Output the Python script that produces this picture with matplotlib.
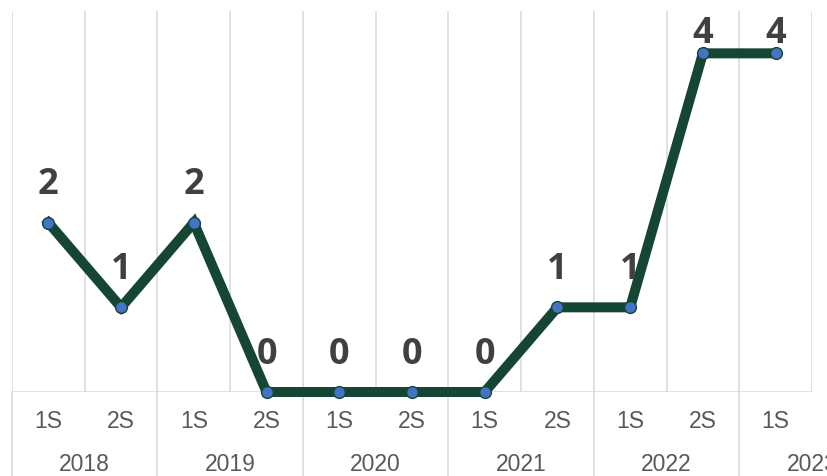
import matplotlib.pyplot as plt

semesters = ['1S', '2S', '1S', '2S', '1S', '2S', '1S', '2S', '1S', '2S', '1S']
years = ['2018', '2019', '2020', '2021', '2022', '2023']
values = [2, 1, 2, 0, 0, 0, 0, 1, 1, 4, 4]

line_color = '#144633'
grid_color = '#D9D9D9'

fig = plt.figure(figsize=(8.27, 4.76), dpi=100)
ax = fig.add_axes([12 / 827, 84 / 476, 800 / 827, 381 / 476])

x = list(range(len(values)))

# vertical gridlines at category boundaries
for b in range(len(values) + 1):
    xb = b - 0.5
    ax.axvline(xb, color=grid_color, lw=1.1, zorder=0)
    if b % 2 == 0 and b < len(values):
        # year separators run down through the label area
        ax.plot([xb, xb], [0, -0.23], color=grid_color, lw=1.1,
                transform=ax.get_xaxis_transform(), clip_on=False)
ax.axhline(0, color=grid_color, lw=1.1, zorder=1)

ax.plot(x, values, color=line_color, lw=7.2, solid_joinstyle='miter',
        marker='o', markersize=8.5, markerfacecolor='#4472C4',
        markeredgecolor=line_color, markeredgewidth=1.0, zorder=3,
        clip_on=False)

top = max(values)
for xi, v in zip(x, values):
    # labels at the top get pushed down so they stay inside the chart
    dy = 7.5 if v == top else 20.5
    ax.annotate(str(v), (xi, v), xytext=(0, dy), textcoords='offset points',
                ha='center', va='baseline', fontsize=26, fontweight='bold',
                family='Open Sans', color='#404040', annotation_clip=False)

for xi, s in zip(x, semesters):
    ax.annotate(s, (xi, 0), xycoords=('data', 'axes fraction'),
                xytext=(0, -21.5), textcoords='offset points',
                ha='center', va='center', fontsize=16.5, family='Liberation Sans',
                color='#595959', annotation_clip=False)

for i, yr in enumerate(years):
    ax.annotate(yr, (2 * i + 0.5, 0), xycoords=('data', 'axes fraction'),
                xytext=(0, -52.5), textcoords='offset points',
                ha='center', va='center', fontsize=16.5, family='Liberation Sans',
                color='#595959', annotation_clip=False)

ax.set_xlim(-0.5, 10.5)
ax.set_ylim(0, 4.5)
ax.set_xticks([])
ax.set_yticks([])
for s in ax.spines.values():
    s.set_visible(False)

fig.savefig('out.png', dpi=100)
